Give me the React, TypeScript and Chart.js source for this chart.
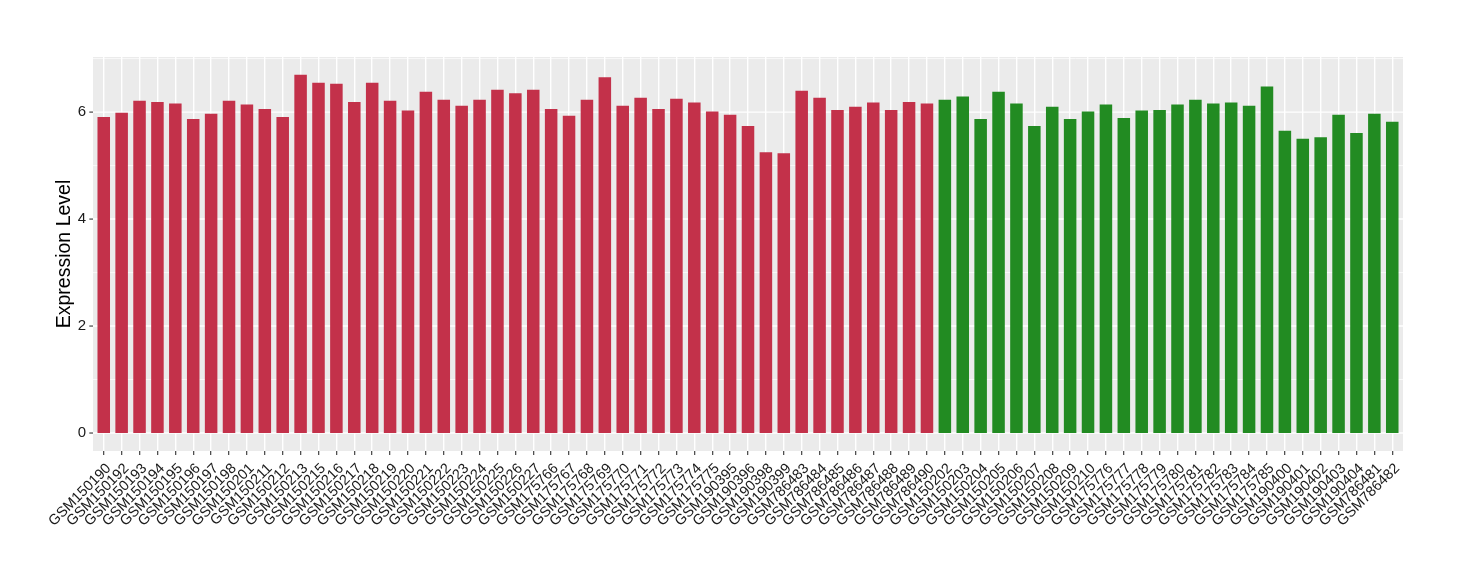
import React, { useEffect, useRef } from "react";
import { Chart, registerables } from "chart.js";

Chart.register(...registerables);

const redSamples = [
  "GSM150190", "GSM150192", "GSM150193", "GSM150194", "GSM150195", "GSM150196", "GSM150197", "GSM150198",
  "GSM150201", "GSM150211", "GSM150212", "GSM150213", "GSM150215", "GSM150216", "GSM150217", "GSM150218",
  "GSM150219", "GSM150220", "GSM150221", "GSM150222", "GSM150223", "GSM150224", "GSM150225", "GSM150226",
  "GSM150227", "GSM175766", "GSM175767", "GSM175768", "GSM175769", "GSM175770", "GSM175771", "GSM175772",
  "GSM175773", "GSM175774", "GSM175775", "GSM190395", "GSM190396", "GSM190398", "GSM190399", "GSM786483",
  "GSM786484", "GSM786485", "GSM786486", "GSM786487", "GSM786488", "GSM786489", "GSM786490",
];
const redValues = [
  5.91, 5.99, 6.21, 6.19, 6.16, 5.87, 5.97, 6.21, 6.14, 6.06, 5.91, 6.70, 6.55, 6.53, 6.19, 6.55,
  6.21, 6.03, 6.38, 6.23, 6.12, 6.23, 6.42, 6.35, 6.42, 6.06, 5.93, 6.23, 6.65, 6.12, 6.27, 6.06,
  6.25, 6.18, 6.01, 5.95, 5.74, 5.25, 5.23, 6.40, 6.27, 6.04, 6.10, 6.18, 6.04, 6.19, 6.16,
];
const greenSamples = [
  "GSM150202", "GSM150203", "GSM150204", "GSM150205", "GSM150206", "GSM150207", "GSM150208", "GSM150209",
  "GSM150210", "GSM175776", "GSM175777", "GSM175778", "GSM175779", "GSM175780", "GSM175781", "GSM175782",
  "GSM175783", "GSM175784", "GSM175785", "GSM190400", "GSM190401", "GSM190402", "GSM190403", "GSM190404",
  "GSM786481", "GSM786482",
];
const greenValues = [
  6.23, 6.29, 5.87, 6.38, 6.16, 5.74, 6.10, 5.87, 6.01, 6.14, 5.89, 6.03, 6.04, 6.14, 6.23, 6.16,
  6.18, 6.12, 6.48, 5.65, 5.50, 5.53, 5.95, 5.61, 5.97, 5.82,
];
const yMajorTicks = [0, 2, 4, 6];
const yMinorTicks = [1, 3, 5, 7];

const RED = "#C3314A";
const GREEN = "#228B22";
const PANEL_LEFT = 93;
const PANEL_RIGHT = 1403;
const EXPAND = 1.8;
const FONT = "'Liberation Sans', Arial, sans-serif";

export default function App() {
  const ref = useRef<HTMLCanvasElement | null>(null);
  useEffect(() => {
    if (!ref.current) return;
    const labels = [...redSamples, ...greenSamples];
    const values = [...redValues, ...greenValues];
    const colors = [...redSamples.map(() => RED), ...greenSamples.map(() => GREEN)];

    const panelPlugin = {
      id: "panel",
      beforeDraw(chart: any) {
        const { ctx, chartArea, scales } = chart;
        const y = scales.y;
        ctx.save();
        ctx.fillStyle = "#EBEBEB";
        ctx.fillRect(PANEL_LEFT, chartArea.top, PANEL_RIGHT - PANEL_LEFT, chartArea.bottom - chartArea.top);
        ctx.strokeStyle = "#FFFFFF";
        for (const v of yMinorTicks) {
          const py = y.getPixelForValue(v);
          if (py < chartArea.top) continue;
          ctx.lineWidth = 0.7;
          ctx.beginPath();
          ctx.moveTo(PANEL_LEFT, py);
          ctx.lineTo(PANEL_RIGHT, py);
          ctx.stroke();
        }
        for (const v of yMajorTicks) {
          const py = y.getPixelForValue(v);
          ctx.strokeStyle = "#FFFFFF";
          ctx.lineWidth = 1.4;
          ctx.beginPath();
          ctx.moveTo(PANEL_LEFT, py);
          ctx.lineTo(PANEL_RIGHT, py);
          ctx.stroke();
          ctx.strokeStyle = "#333333";
          ctx.lineWidth = 1.1;
          ctx.beginPath();
          ctx.moveTo(PANEL_LEFT - 3.7, py);
          ctx.lineTo(PANEL_LEFT, py);
          ctx.stroke();
        }
        ctx.restore();
      },
    };

    const chart = new Chart(ref.current, {
      type: "bar",
      data: {
        labels,
        datasets: [
          {
            data: values,
            backgroundColor: colors,
            borderWidth: 0,
            categoryPercentage: 1,
            barPercentage: 0.7,
          },
        ],
      },
      options: {
        animation: false,
        responsive: true,
        maintainAspectRatio: false,
        layout: { padding: { top: 57, right: 1460 - PANEL_RIGHT + EXPAND, left: 0, bottom: 0 } },
        plugins: { legend: { display: false }, tooltip: { enabled: false } },
        scales: {
          x: {
            offset: true,
            grid: {
              offset: false,
              color: "#FFFFFF",
              lineWidth: 1.4,
              tickColor: "#333333",
              tickLength: 4,
              tickWidth: 1.1,
            },
            border: { display: false },
            ticks: {
              autoSkip: false,
              minRotation: 45,
              maxRotation: 45,
              padding: 5,
              labelOffset: 5,
              color: "#1A1A1A",
              font: { family: FONT, size: 14.5 },
            },
            afterFit(scale: any) {
              scale.height = 580 - 451;
            },
          },
          y: {
            min: -0.336,
            max: 7.03,
            grid: { display: false, drawTicks: false, tickLength: 0 },
            border: { display: false },
            ticks: {
              stepSize: 2,
              includeBounds: false,
              padding: PANEL_LEFT + EXPAND - 86,
              color: "#1A1A1A",
              font: { family: FONT, size: 15 },
            },
            afterBuildTicks(scale: any) {
              scale.ticks = yMajorTicks.map((v) => ({ value: v }));
            },
            title: {
              display: true,
              text: "Expression Level",
              color: "#000000",
              font: { family: FONT, size: 19.5 },
              padding: { top: 53, bottom: 0 },
            },
            afterFit(scale: any) {
              scale.width = PANEL_LEFT + EXPAND;
            },
          },
        },
      },
      plugins: [panelPlugin],
    });
    return () => chart.destroy();
  }, []);

  return (
    <div style={{ position: "fixed", left: 0, top: 0, width: 1460, height: 580, background: "#FFFFFF" }}>
      <canvas ref={ref} />
    </div>
  );
}
